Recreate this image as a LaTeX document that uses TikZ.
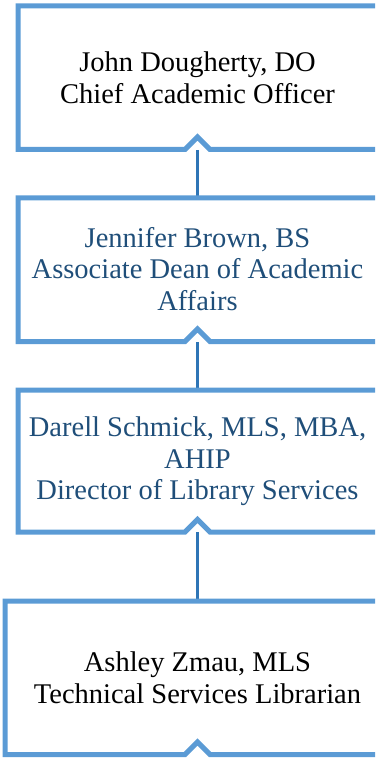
\documentclass[tikz,border=0pt]{standalone}
\usepackage{fontspec}
\setmainfont{Liberation Serif}
\definecolor{boxblue}{HTML}{5B9BD5}
\definecolor{linkblue}{HTML}{2E75B6}
\definecolor{textblue}{HTML}{1F4E79}
\tikzset{
  boxline/.style={draw=boxblue, line width=5pt, line join=miter},
  link/.style={draw=linkblue, line width=3pt},
  label/.style={align=center, inner sep=0pt, font=\fontsize{28.5}{31.5}\selectfont},
}
\begin{document}
\begin{tikzpicture}[x=1pt,y=-1pt]
\useasboundingbox (0,0) rectangle (375,759);
\clip (0,0) rectangle (375,759);
% connector end points
\coordinate (b1) at (197.5,150);
\coordinate (t2) at (197.5,198);
\coordinate (b2) at (197.5,342);
\coordinate (t3) at (197.5,390);
\coordinate (b3) at (197.5,532);
\coordinate (t4) at (197.5,601);
\draw[link] (b1) -- (t2);
\draw[link] (b2) -- (t3);
\draw[link] (b3) -- (t4);
% boxes
\draw[boxline] (400,6) -- (18,6) -- (18,149.5) -- (185,149.5) -- (197.5,137) -- (210,149.5) -- (400,149.5);
\draw[boxline] (400,198) -- (18,198) -- (18,341.5) -- (185,341.5) -- (197.5,329) -- (210,341.5) -- (400,341.5);
\draw[boxline] (400,390) -- (18,390) -- (18,532) -- (185,532) -- (197.5,519.5) -- (210,532) -- (400,532);
\draw[boxline] (400,601) -- (5,601) -- (5,754.5) -- (185,754.5) -- (197.5,742) -- (210,754.5) -- (400,754.5);
% texts
\node[label, text=black] (n1) at (197.5,78) {John Dougherty, DO\\Chief Academic Officer};
\node[label, text=textblue] (n2) at (197.5,269) {Jennifer Brown, BS\\Associate Dean of Academic\\Affairs};
\node[label, text=textblue] (n3) at (197.5,461.5) {Darell Schmick, MLS, MBA,\\AHIP\\Director of Library Services};
\node[label, text=black] (n4) at (197.5,677.5) {Ashley Zmau, MLS\\Technical Services Librarian};
\end{tikzpicture}
\end{document}
